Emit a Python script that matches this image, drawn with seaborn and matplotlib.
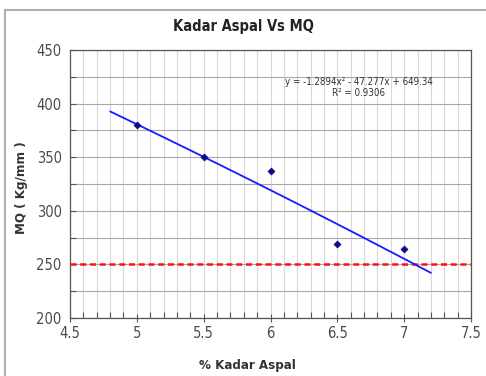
import numpy as np
import pandas as pd
import matplotlib
matplotlib.use("Agg")
import matplotlib.pyplot as plt
import seaborn as sns
from matplotlib.ticker import MultipleLocator
from matplotlib.patches import Rectangle

# data
kadar_aspal = [5.0, 5.5, 6.0, 6.5, 7.0]
mq = [380, 350, 337, 269, 264]
trend_coef = [-1.2894, -47.277, 649.34]   # y = a x^2 + b x + c
trend_range = [4.8, 7.2]
r_squared = 0.9306
limit_mq = 250
x_ticks = [4.5, 5, 5.5, 6, 6.5, 7, 7.5]
y_ticks = [200, 250, 300, 350, 400, 450]

sns.set_theme(style="white")
plt.rcParams['font.family'] = ['DejaVu Sans']
plt.rcParams['font.stretch'] = 'condensed'

fig = plt.figure(figsize=(4.86, 3.76), dpi=100)
ax = fig.add_axes([70/486, 1-318/376, (471-70)/486, (318-50)/376])

# frame around chart
fig.patches.append(Rectangle((5/486, -0.05), 1.1, 1 - 10/376 + 0.05,
                             transform=fig.transFigure, fill=False,
                             edgecolor="#b0b0b0", linewidth=1.5))

df = pd.DataFrame({"x": kadar_aspal, "y": mq})
xs = np.linspace(trend_range[0], trend_range[1], 50)
tr = pd.DataFrame({"x": xs, "y": np.polyval(trend_coef, xs)})

ax.axhline(limit_mq, color="#ff1010", linestyle=(0, (2.4, 1.5)), linewidth=1.8, zorder=3)
sns.lineplot(data=tr, x="x", y="y", ax=ax, color="#1a1aff", linewidth=1.3, zorder=4)
sns.scatterplot(data=df, x="x", y="y", ax=ax, marker="D", s=14, color="#0a0a8a",
                edgecolor="#0a0a8a", zorder=5)

ax.set_xlim(4.5, 7.5)
ax.set_ylim(200, 450)
ax.set_xticks(x_ticks)
ax.set_xticklabels([("%g" % v) for v in x_ticks])
ax.set_yticks(y_ticks)
ax.xaxis.set_minor_locator(MultipleLocator(0.1))
ax.yaxis.set_minor_locator(MultipleLocator(25))
ax.grid(which="both", axis="x", color="#d8d8d8", linewidth=0.8)
ax.grid(which="both", axis="y", color="#a8a8a8", linewidth=0.8)
ax.set_axisbelow(True)
ax.tick_params(axis="both", which="both", direction="in", length=4, color="#555555",
               width=0.8, bottom=True, left=True)
ax.tick_params(axis="x", which="major", direction="inout", length=6, pad=3)
ax.tick_params(axis="y", pad=6)
ax.tick_params(labelsize=10.5, labelcolor="#4a4a4a")
for s in ax.spines.values():
    s.set_color("#555555")
    s.set_linewidth(0.9)

ax.set_xlabel("% Kadar Aspal", fontsize=9.5, fontweight="bold", color="#333333")
ax.xaxis.set_label_coords((247-70)/401, -(365-318)/268)
ax.xaxis.label.set_va("center")
ax.set_ylabel("MQ ( Kg/mm )", fontsize=9.5, fontweight="bold", color="#333333")
ax.yaxis.set_label_coords((21-70)/401, (318-188)/268)
ax.yaxis.label.set_va("center")
fig.text(0.5, 1 - 27/376, "Kadar Aspal Vs MQ", ha="center", va="center",
         fontsize=10.5, fontweight="bold", color="#222222")

a, b, c = trend_coef
eq = "y = %gx² - %gx + %g" % (a, abs(b), c)
ax.text(6.66, 425, eq + "\nR² = %g" % r_squared, ha="center", va="top",
        fontsize=7, color="#333333", linespacing=1.1)

fig.savefig("out.png", dpi=100)
